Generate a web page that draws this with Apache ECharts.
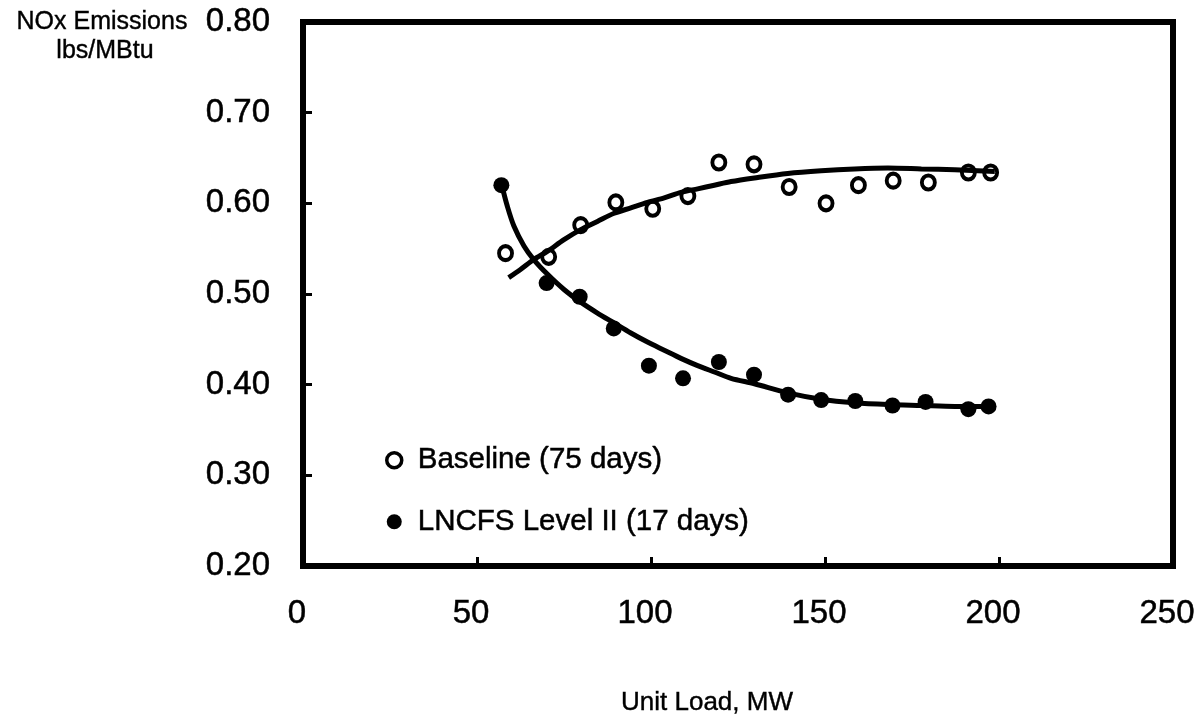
<!DOCTYPE html>
<html>
<head>
<meta charset="utf-8">
<script src="https://cdn.jsdelivr.net/npm/echarts@6/dist/echarts.min.js"></script>
<style>
html,body{margin:0;padding:0;background:#fff;}
#chart{width:1200px;height:721px;}
</style>
</head>
<body>
<div id="chart"></div>
<script>
// Baseline (open circles)
var baselineLoad = [58.2, 70.6, 79.8, 89.9, 100.5, 110.6, 119.5, 129.6, 139.7, 150.3, 159.6, 169.6, 179.7, 191.2, 197.6];
var baselineNOx  = [0.545, 0.541, 0.576, 0.601, 0.594, 0.608, 0.645, 0.643, 0.618, 0.600, 0.620, 0.625, 0.623, 0.634, 0.634];
// LNCFS Level II (filled circles)
var lncfsLoad = [57.0, 70.0, 79.5, 89.3, 99.4, 109.2, 119.5, 129.6, 139.4, 148.9, 158.7, 169.4, 178.9, 191.2, 197.0];
var lncfsNOx  = [0.620, 0.512, 0.497, 0.462, 0.421, 0.407, 0.425, 0.411, 0.389, 0.383, 0.382, 0.377, 0.381, 0.373, 0.376];
// Fitted curves
var baselineFitLoad = [59.1, 62.5, 66.3, 70.2, 75.0, 79.8, 84.6, 89.4, 94.2, 99.0, 103.8, 108.6, 113.4, 118.2, 123.0, 129.7, 139.3, 148.9, 158.5, 168.1, 177.7, 187.3, 198.8];
var baselineFitNOx  = [0.518, 0.527, 0.538, 0.547, 0.560, 0.571, 0.580, 0.589, 0.595, 0.601, 0.606, 0.612, 0.616, 0.620, 0.624, 0.628, 0.633, 0.636, 0.638, 0.639, 0.638, 0.637, 0.635];
var lncfsFitLoad = [57.2, 58.7, 60.6, 63.5, 66.3, 70.2, 75.0, 79.8, 84.6, 89.4, 94.2, 99.0, 103.8, 108.6, 113.4, 118.2, 123.0, 129.7, 139.3, 148.9, 158.5, 168.1, 177.7, 187.3, 197.5];
var lncfsFitNOx  = [0.619, 0.597, 0.575, 0.553, 0.538, 0.522, 0.505, 0.491, 0.479, 0.468, 0.457, 0.447, 0.438, 0.429, 0.421, 0.414, 0.407, 0.401, 0.391, 0.384, 0.380, 0.378, 0.377, 0.376, 0.376];
// Axis ticks
var xTicks = [0, 50, 100, 150, 200, 250];
var yTicks = [0.20, 0.30, 0.40, 0.50, 0.60, 0.70, 0.80];
var seriesNames = ['Baseline (75 days)', 'LNCFS Level II (17 days)'];

function pairs(xs, ys){ return xs.map(function(x,i){ return [x, ys[i]]; }); }

var FONT = '"Liberation Sans", Arial, Helvetica, sans-serif';
var INK = {textBorderColor: '#000', textBorderWidth: 0.5};
var chart = echarts.init(document.getElementById('chart'), null, {renderer:'canvas'});
chart.setOption({
  animation: false,
  backgroundColor: '#fff',
  grid: {left: 303, right: 27, top: 22, bottom: 155, show: true, borderColor: '#000', borderWidth: 6},
  xAxis: {
    type: 'value', min: xTicks[0], max: xTicks[xTicks.length-1], interval: 50,
    splitLine: {show: false},
    axisLine: {show: true, lineStyle: {color: '#000', width: 6}},
    axisTick: {show: true, inside: true, length: 9, lineStyle: {color: '#000', width: 3}},
    axisLabel: Object.assign({color: '#000', fontSize: 33, fontFamily: FONT, margin: 31, padding: [0, 12, 0, 0]}, INK)
  },
  yAxis: {
    type: 'value', min: yTicks[0], max: yTicks[yTicks.length-1], interval: 0.1,
    splitLine: {show: false},
    axisLine: {show: true, lineStyle: {color: '#000', width: 6}},
    axisTick: {show: true, inside: true, length: 9, lineStyle: {color: '#000', width: 3}},
    axisLabel: Object.assign({color: '#000', fontSize: 33, fontFamily: FONT, margin: 33, padding: [4, 0, 0, 0],
      formatter: function(v){ return v.toFixed(2); }}, INK)
  },
  legend: {
    orient: 'vertical', left: 380, top: 440, itemGap: 31,
    itemWidth: 15, itemHeight: 15,
    textStyle: Object.assign({color: '#000', fontSize: 29.5, fontFamily: FONT, padding: [0,0,0,11]}, INK),
    data: [
      {name: seriesNames[0], icon: 'circle', itemStyle: {color: '#fff', borderColor: '#000', borderWidth: 3.5}},
      {name: seriesNames[1], icon: 'circle', itemStyle: {color: '#000', borderWidth: 0}}
    ]
  },
  graphic: [
    {type: 'text', x: 102, y: 10, style: Object.assign({text: 'NOx Emissions', fontSize: 25, fontFamily: FONT, fill: '#000', align: 'center'}, {stroke: '#000', lineWidth: 0.4})},
    {type: 'text', x: 105, y: 39, style: Object.assign({text: 'lbs/MBtu', fontSize: 25, fontFamily: FONT, fill: '#000', align: 'center'}, {stroke: '#000', lineWidth: 0.4})},
    {type: 'text', x: 707, y: 690, style: {text: 'Unit Load, MW', fontSize: 26, fontFamily: FONT, fill: '#000', align: 'center', stroke: '#000', lineWidth: 0.4}}
  ],
  series: [
    {name: 'baselineFit', type: 'line', data: pairs(baselineFitLoad, baselineFitNOx), smooth: 0.3,
      showSymbol: false, lineStyle: {color: '#000', width: 5}, silent: true, z: 1},
    {name: 'lncfsFit', type: 'line', data: pairs(lncfsFitLoad, lncfsFitNOx), smooth: 0.3,
      showSymbol: false, lineStyle: {color: '#000', width: 5}, silent: true, z: 1},
    {name: seriesNames[0], type: 'scatter', data: pairs(baselineLoad, baselineNOx), symbol: 'circle', symbolSize: [13,14],
      itemStyle: {color: 'rgba(255,255,255,0)', borderColor: '#000', borderWidth: 4, opacity: 1}, z: 3},
    {name: seriesNames[1], type: 'scatter', data: pairs(lncfsLoad, lncfsNOx), symbol: 'circle', symbolSize: 16,
      itemStyle: {color: '#000', opacity: 1}, z: 3}
  ]
});
</script>
</body>
</html>
